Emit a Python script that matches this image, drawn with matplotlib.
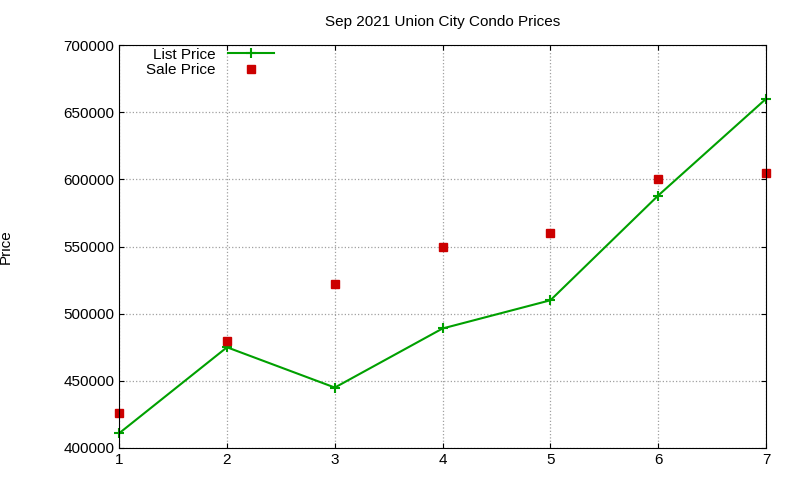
import matplotlib
matplotlib.use("Agg")
import matplotlib.pyplot as plt

x = [1, 2, 3, 4, 5, 6, 7]
list_price = [411000, 475000, 445000, 489000, 510000, 588000, 660000]
sale_price = [426000, 480000, 522000, 550000, 560000, 600000, 605000]
yticks = [400000, 450000, 500000, 550000, 600000, 650000, 700000]

plt.rcParams['font.family'] = ['Liberation Sans', 'DejaVu Sans']
fig = plt.figure(figsize=(8, 4.8), dpi=100)
ax = fig.add_axes([0.149, 0.0667, 0.8085, 0.8393])
ax.plot(x, list_price, color='#00a000', lw=1.5, marker='+', ms=7, mew=1.5, label='List Price', clip_on=False)
ax.plot(x, sale_price, ls='none', marker='s', ms=6, color='#cc0000', label='Sale Price', clip_on=False)
ax.set_xlim(1, 7)
ax.set_ylim(400000, 700000)
ax.set_yticks(yticks)
ax.set_yticklabels([str(v) for v in yticks])
ax.set_xticks(x)
ax.tick_params(direction='in', labelsize=11, top=True, right=True)
ax.grid(True, color='#a0a0a0', ls=':', lw=0.9)
ax.set_ylabel('Price', fontsize=11)
ax.yaxis.set_label_coords(-0.165, 0.5)
ax.set_title('Sep 2021 Union City Condo Prices', fontsize=11, pad=14)
ax.legend(loc='upper left', markerfirst=False, frameon=False, fontsize=11,
          bbox_to_anchor=(0.025, 1.02), handlelength=3.0, borderaxespad=0.3,
          labelspacing=0.1)
fig.savefig('out.png', dpi=100)
